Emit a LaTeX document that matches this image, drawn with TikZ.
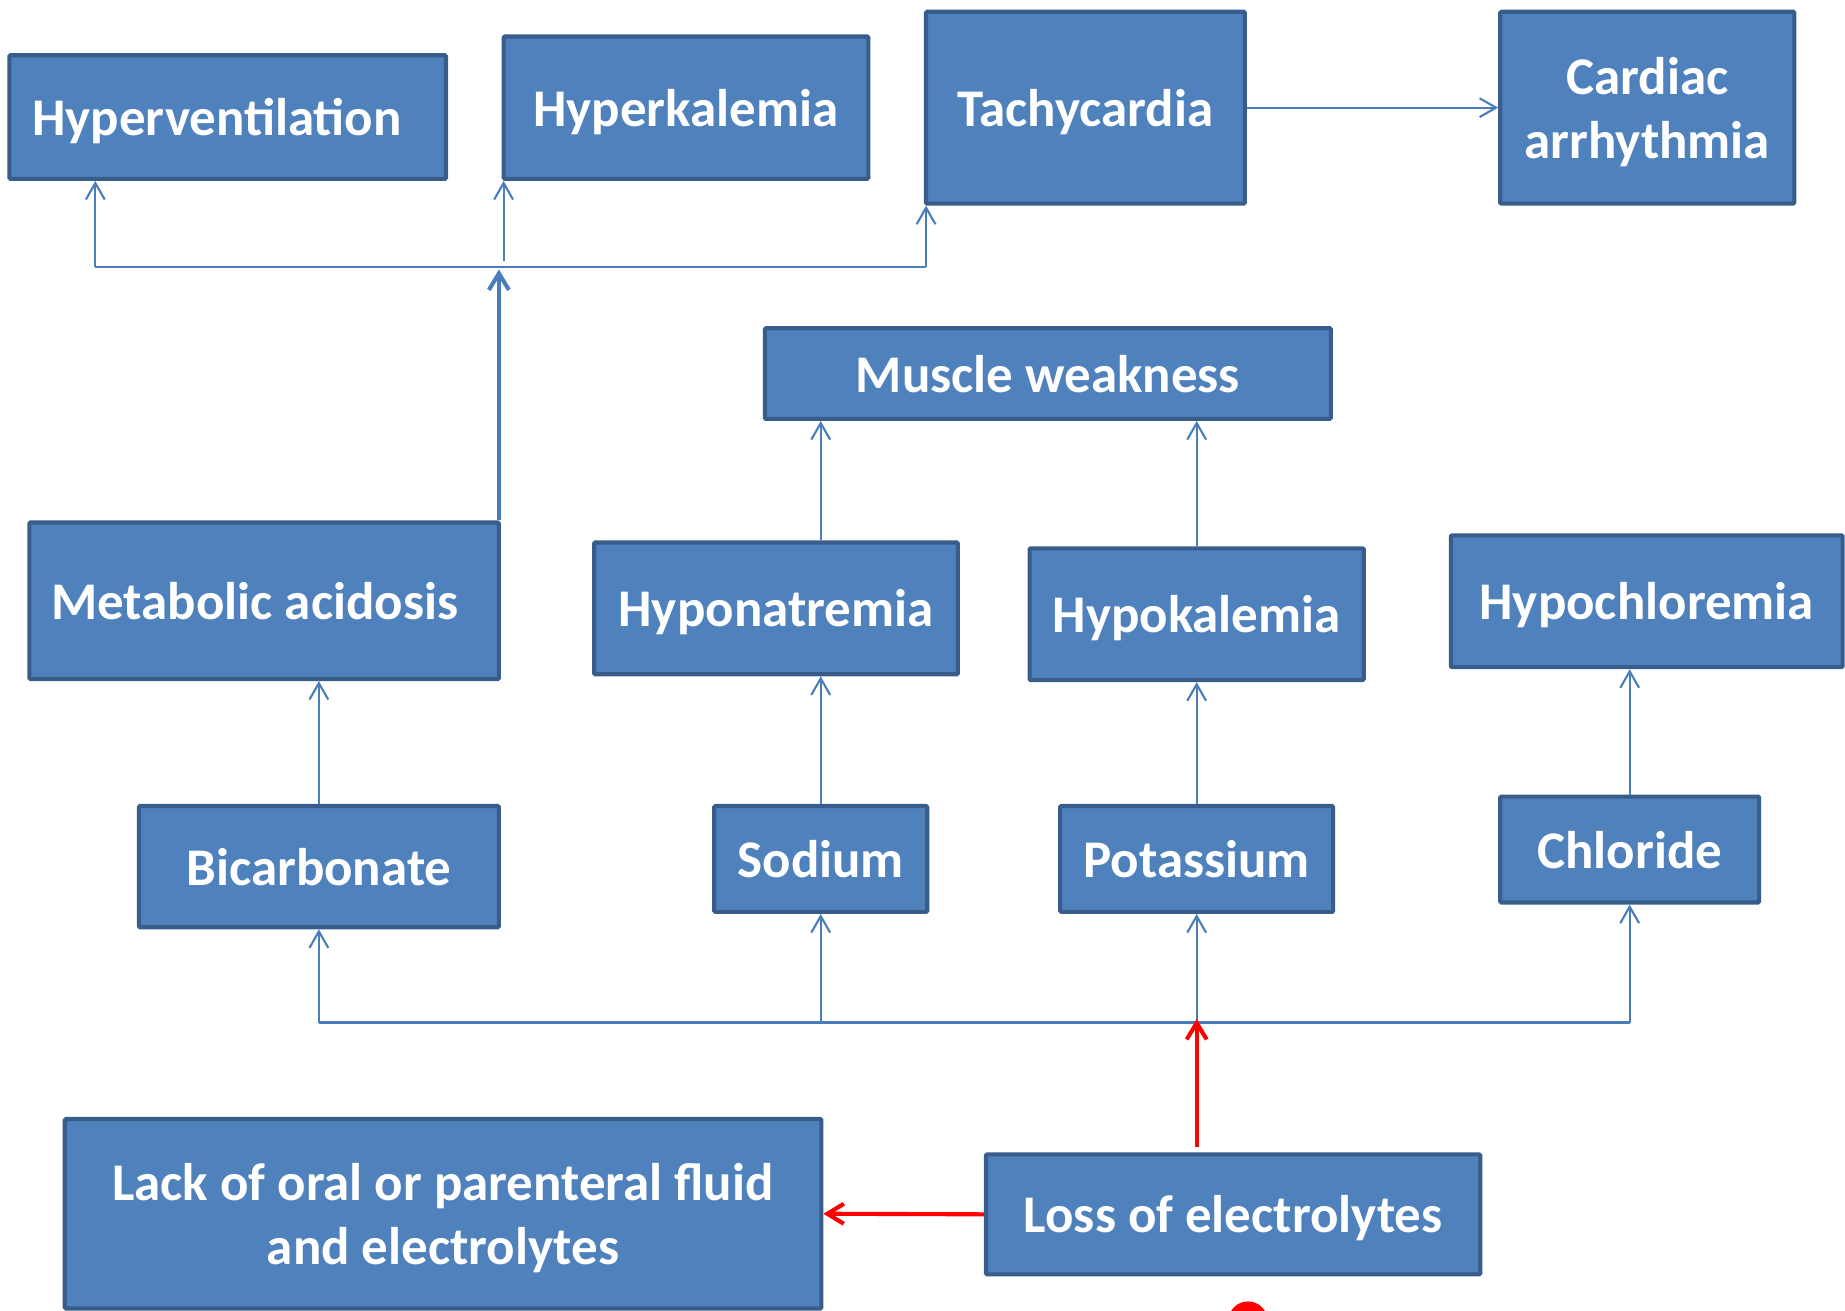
\documentclass[tikz,border=0pt]{standalone}
\usepackage{fontspec}
\setmainfont{Carlito}
\usetikzlibrary{arrows.meta}
\definecolor{boxfill}{HTML}{4F81BD}
\definecolor{boxline}{HTML}{385D8A}
\definecolor{connblue}{HTML}{4A7EBB}
\definecolor{redline}{HTML}{FF0000}
\tikzset{
  box/.style={draw=boxline, fill=boxfill, line width=3.5pt, text=white,
    font=\fontsize{45}{54}\selectfont\bfseries, align=center, inner sep=0pt,
    text depth=0pt, rounded corners=1pt},
  conn/.style={draw=connblue, line width=1.8pt,
    -{Straight Barb[length=14pt,width=16pt]}},
  plainconn/.style={draw=connblue, line width=1.8pt},
  thickconn/.style={draw=connblue, line width=3.5pt,
    -{Straight Barb[length=14pt,width=17pt]}},
  redconn/.style={draw=redline, line width=3.5pt,
    -{Straight Barb[length=14pt,width=17pt]}}
}
\begin{document}
\begin{tikzpicture}[x=1pt,y=-1pt]
\useasboundingbox (0,0) rectangle (1568,1114);
% boxes
\node[box, minimum width=371, minimum height=105] (hv) at (193.5,99.5) {Hyperventilation\hspace*{18pt}};
\node[box, minimum width=310, minimum height=121] (hk) at (583,91.5) {Hyperkalemia};
\node[box, minimum width=271, minimum height=163] (ta) at (922.5,91.5) {Tachycardia};
\node[box, minimum width=250, minimum height=163] (ca) at (1400,91.5) {Cardiac\\arrhythmia};
\node[box, minimum width=481, minimum height=77] (mw) at (890.5,317.5) {Muscle weakness};
\node[box, minimum width=399, minimum height=133] (ma) at (224.5,510.5) {Metabolic acidosis\hspace*{16pt}};
\node[box, minimum width=309, minimum height=112] (hn) at (659.5,517) {Hyponatremia};
\node[box, minimum width=284, minimum height=112] (hpk) at (1017,522) {Hypokalemia};
\node[box, minimum width=333, minimum height=112] (hc) at (1399.5,511) {Hypochloremia};
\node[box, minimum width=306, minimum height=103] (bi) at (271,736.5) {Bicarbonate};
\node[box, minimum width=181, minimum height=90] (so) at (697.5,730) {Sodium};
\node[box, minimum width=232, minimum height=90] (po) at (1017,730) {Potassium};
\node[box, minimum width=220, minimum height=90] (cl) at (1385,722) {Chloride};
\node[box, minimum width=643, minimum height=161] (lack) at (376.5,1031.5) {Lack of oral or parenteral fluid\\and electrolytes};
\node[box, minimum width=420, minimum height=102] (loss) at (1048,1032) {Loss of electrolytes};
% top bus
\coordinate (tb1) at (81,227);
\coordinate (tb2) at (787,227);
\coordinate (hkfoot) at (428,222);
\coordinate (tbj) at (424,229);
\draw[plainconn] (tb1) -- (tb2);
\draw[conn] (tb1) -- (tb1 |- hv.south);
\draw[conn] (hkfoot) -- (hkfoot |- hk.south);
\draw[conn] (tb2) -- (tb2 |- ta.south);
\draw[thickconn] (tbj |- ma.north) -- (tbj);
\draw[conn] (ta.east) -- (ca.west);
% muscle weakness
\draw[conn] (so.north |- hn.north) -- (so.north |- mw.south);
\draw[conn] (hpk.north) -- (hpk.north |- mw.south);
% electrolytes to conditions
\draw[conn] (bi.north) -- (bi.north |- ma.south);
\draw[conn] (so.north) -- (so.north |- hn.south);
\draw[conn] (po.north) -- (po.north |- hpk.south);
\draw[conn] (cl.north) -- (cl.north |- hc.south);
% bottom bus
\coordinate (bb1) at (271,869);
\coordinate (bb4) at (1385,869);
\draw[plainconn] (bb1) -- (bb4);
\draw[conn] (bb1) -- (bi.south);
\draw[conn] (so.south |- bb1) -- (so.south);
\draw[conn] (po.south |- bb1) -- (po.south);
\draw[conn] (bb4) -- (cl.south);
% red arrows
\coordinate (redstart) at (1017,975);
\coordinate (redend) at (1017,866);
\draw[redconn] (redstart) -- (redend);
\draw[redconn] (loss.west) -- (lack.east);
% partial red circle at the bottom edge
\fill[redline] (1060.6,1122.7) circle (16.7);
\end{tikzpicture}
\end{document}
